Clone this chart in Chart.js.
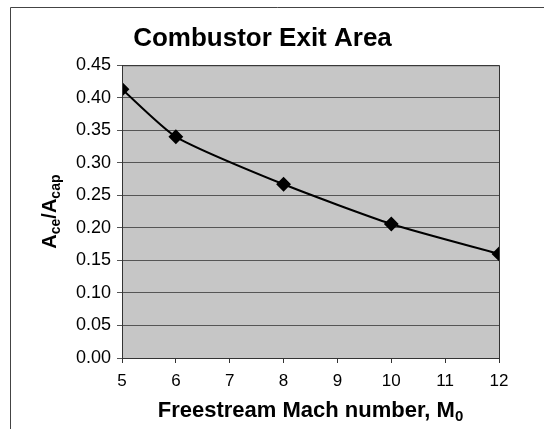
<!DOCTYPE html>
<html>
<head>
<meta charset="utf-8">
<script src="https://cdn.jsdelivr.net/npm/chart.js@4/dist/chart.umd.min.js"></script>
<style>
  html, body { margin: 0; padding: 0; background: #fff; }
  #wrap { position: relative; width: 544px; height: 429px; }
</style>
</head>
<body>
<div id="wrap"><canvas id="chart" width="544" height="429"></canvas></div>
<script>
const machNumbers = [5, 6, 8, 10, 12]
const areaRatios = [0.413, 0.340, 0.267, 0.206, 0.160]
const yTicks = [0, 0.05, 0.10, 0.15, 0.20, 0.25, 0.30, 0.35, 0.40, 0.45]
const xTicks = [5, 6, 7, 8, 9, 10, 11, 12]

const FONT = "'Liberation Sans', Arial, sans-serif"

// draws the frame, plot background and the axis titles with subscripts
const excelLook = {
  id: 'excelLook',
  beforeDraw (chart) {
    const { ctx, chartArea: a } = chart
    ctx.save()
    ctx.fillStyle = '#c6c6c6'
    ctx.fillRect(a.left, a.top, a.right - a.left, a.bottom - a.top)
    ctx.strokeStyle = '#444'
    ctx.lineWidth = 1
    ctx.beginPath()
    ctx.moveTo(10.5, 429)
    ctx.lineTo(10.5, 7.5)
    ctx.lineTo(544, 7.5)
    ctx.stroke()
    ctx.restore()
  },
  afterDraw (chart) {
    const { ctx, chartArea: a } = chart
    ctx.save()
    ctx.strokeStyle = '#333'
    ctx.lineWidth = 1
    ctx.strokeRect(a.left + 0.5, a.top + 0.5, a.right - a.left, a.bottom - a.top)

    ctx.fillStyle = '#000'
    ctx.textBaseline = 'alphabetic'
    // y title: A_ce / A_cap
    const yParts = [['A', 20, 0], ['ce', 14, 4], ['/A', 20, 0], ['cap', 14, 4]]
    const cy = (a.top + a.bottom) / 2
    let w = 0
    yParts.forEach(p => { ctx.font = 'bold ' + p[1] + 'px ' + FONT; w += ctx.measureText(p[0]).width })
    ctx.translate(56, cy)
    ctx.rotate(-Math.PI / 2)
    let x = -w / 2
    yParts.forEach(p => {
      ctx.font = 'bold ' + p[1] + 'px ' + FONT
      ctx.fillText(p[0], x, p[2])
      x += ctx.measureText(p[0]).width
    })
    ctx.setTransform(1, 0, 0, 1, 0, 0)

    // x title
    const xParts = [['Freestream Mach number, M', 22, 0], ['0', 15, 4]]
    w = 0
    xParts.forEach(p => { ctx.font = 'bold ' + p[1] + 'px ' + FONT; w += ctx.measureText(p[0]).width })
    x = (a.left + a.right) / 2 - w / 2
    xParts.forEach(p => {
      ctx.font = 'bold ' + p[1] + 'px ' + FONT
      ctx.fillText(p[0], x, 417 + p[2])
      x += ctx.measureText(p[0]).width
    })
    ctx.restore()
  }
}

// eslint-disable-next-line no-new
new Chart(document.getElementById('chart'), {
  type: 'line',
  data: {
    datasets: [{
      label: 'Ace/Acap',
      data: machNumbers.map((m, i) => ({ x: m, y: areaRatios[i] })),
      borderColor: '#000',
      borderWidth: 2,
      tension: 0.2,
      pointStyle: 'rectRot',
      pointRadius: 6,
      pointBackgroundColor: '#000',
      pointBorderColor: '#000'
    }]
  },
  plugins: [excelLook],
  options: {
    responsive: false,
    animation: false,
    layout: { padding: { left: 26, right: 45, top: 0, bottom: 0 } },
    plugins: {
      legend: { display: false },
      tooltip: { enabled: false },
      title: {
        display: true,
        text: 'Combustor Exit Area',
        color: '#000',
        font: { family: FONT, size: 26, weight: 'bold' },
        padding: { top: 23, bottom: 11 }
      }
    },
    scales: {
      x: {
        type: 'linear',
        min: 5,
        max: 12,
        afterBuildTicks: s => { s.ticks = xTicks.map(v => ({ value: v })) },
        afterFit: s => { s.height = 71 },
        grid: { drawOnChartArea: false, tickLength: 5, color: '#333' },
        border: { color: '#333' },
        ticks: { color: '#000', padding: 8, font: { family: FONT, size: 17 } }
      },
      y: {
        min: 0,
        max: 0.45,
        afterBuildTicks: s => { s.ticks = yTicks.map(v => ({ value: v })) },
        afterFit: s => { s.width = 96 },
        grid: { color: '#555', tickLength: 5 },
        border: { color: '#333' },
        ticks: {
          color: '#000',
          padding: 6,
          font: { family: FONT, size: 18 },
          callback: v => v.toFixed(2)
        }
      }
    }
  }
})
</script>
</body>
</html>
